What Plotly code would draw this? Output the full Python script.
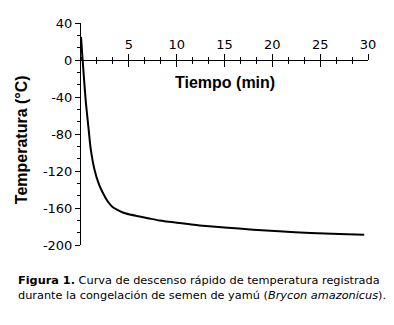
import plotly.graph_objects as go

# Data
tiempo_min = [0, 0.17, 0.5, 0.8, 1.0, 1.4, 1.9, 2.4, 2.8, 3.3, 4.0, 4.7, 6.0, 7.0,
              8.2, 10.3, 12.4, 15.0, 18.0, 20.7, 24.0, 27.0, 29.6]
temperatura_c = [25, 0, -45, -75, -95, -118, -135, -146, -153, -159, -163, -166,
                 -169, -171, -173.5, -176.3, -178.8, -181, -183.5, -185.2, -187,
                 -188, -188.8]

x_ticks = [5, 10, 15, 20, 25, 30]
x_ticktext = ["5", "10", "15", "20", "25", "30"]
y_ticks = [40, 0, -40, -80, -120, -160, -200]
y_ticktext = ["40", "0", "-40", "-80", "-120", "-160", "-200"]

x_range = [0, 30]
y_range = [-200, 40]

FONT = "Liberation Sans, Arial, sans-serif"
WIDE = "DejaVu Sans, Verdana, sans-serif"

# x axis sits at y = 0
x_axis_pos = (0 - y_range[0]) / (y_range[1] - y_range[0])

fig = go.Figure()
fig.add_trace(go.Scatter(
    x=tiempo_min, y=temperatura_c, mode="lines",
    line=dict(color="black", width=2, shape="spline", smoothing=0.6),
    showlegend=False, hoverinfo="skip",
))
# invisible helper on the overlay axis so its ticks are drawn
fig.add_trace(go.Scatter(
    x=[None], y=[None], xaxis="x2", mode="lines", showlegend=False, hoverinfo="skip",
))

common_x = dict(range=x_range, anchor="free", position=x_axis_pos, side="top",
                showgrid=False, zeroline=False, tickvals=x_ticks, automargin=False)

caption = ("<b>Figura 1.</b> Curva de descenso rápido de temperatura registrada<br>"
           "durante la congelación de semen de yamú (<i>Brycon amazonicus</i>).")

# the page body adds an 8 px offset, so the figure is 8 px smaller
fig.update_layout(
    width=386, height=317,
    margin=dict(l=73, r=25.5, t=15, b=80, autoexpand=False),
    paper_bgcolor="white", plot_bgcolor="white",
    font=dict(family=FONT, color="black"),
    xaxis=dict(**common_x, ticktext=x_ticktext, ticks="outside", ticklen=6,
               tickwidth=1, tickcolor="black", showline=True, linecolor="black",
               linewidth=1, tickfont=dict(size=13, family=WIDE),
               minor=dict(dtick=5 / 3, tick0=0, ticks="outside", ticklen=3,
                          tickcolor="black", tickwidth=1, showgrid=False)),
    xaxis2=dict(**common_x, overlaying="x", ticks="inside", ticklen=6, tickwidth=1,
                tickcolor="black", showticklabels=False, showline=False,
                minor=dict(dtick=5 / 3, tick0=0, ticks="inside", ticklen=3,
                           tickcolor="black", tickwidth=1, showgrid=False)),
    yaxis=dict(range=y_range, showgrid=False, zeroline=False, showline=True,
               automargin=False,
               linecolor="black", linewidth=1, ticks="outside", ticklen=5,
               tickwidth=1, tickcolor="black", tickvals=y_ticks,
               ticktext=y_ticktext, tickfont=dict(size=13, family=WIDE),
               minor=dict(dtick=40 / 3, tick0=0, ticks="outside", ticklen=3,
                          tickcolor="black", tickwidth=1, showgrid=False)),
    annotations=[
        dict(text="<b>Tiempo (min)</b>", xref="paper", yref="paper",
             x=0.50, y=0.730, showarrow=False, xanchor="center", yanchor="middle",
             font=dict(size=16, family=FONT)),
        dict(text="<b>Temperatura (°C)</b>", xref="paper", yref="paper",
             x=-0.205, y=0.473, showarrow=False, textangle=-90,
             xanchor="center", yanchor="middle", font=dict(size=16, family=FONT)),
        dict(text=caption, xref="paper", yref="paper", x=-0.226, y=-0.1937,
             showarrow=False, xanchor="left", yanchor="middle", align="left",
             font=dict(size=11.3, family=WIDE)),
    ],
)

fig.write_html("out.html")
